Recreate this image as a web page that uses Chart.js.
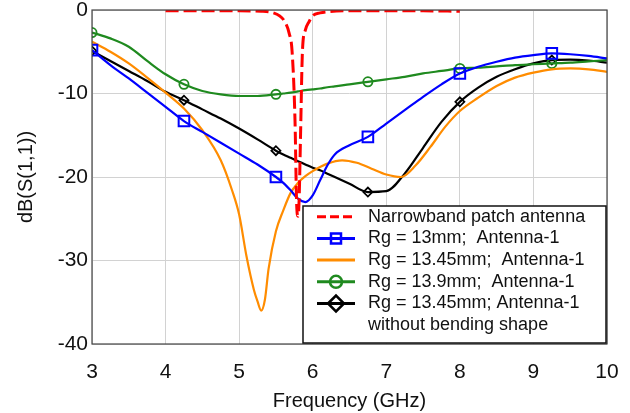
<!DOCTYPE html>
<html>
<head>
<meta charset="utf-8">
<script src="https://cdn.jsdelivr.net/npm/chart.js@4"></script>
<style>
	html, body { margin: 0; padding: 0; background: #fff; }
</style>
</head>
<body>
<canvas id="s11-chart" width="630" height="413"></canvas>
<script>
// frequency grid (GHz) shared by the three Antenna-1 curves with markers
var freq = [3, 3.25, 3.5, 3.75, 4, 4.25, 4.5, 4.75, 5, 5.25, 5.5, 5.6, 5.7, 5.8, 5.9, 6, 6.1, 6.2, 6.3, 6.5, 6.75, 7, 7.25, 7.5, 7.75, 8, 8.25, 8.5, 8.75, 9, 9.25, 9.5, 9.75, 10];
var rg13 = [-4.8, -6.6, -8.2, -9.9, -11.6, -13.3, -14.6, -15.9, -17.2, -18.5, -20.0, -20.7, -21.6, -22.6, -23.0, -22.2, -20.4, -18.6, -17.3, -16.2, -15.2, -13.6, -12.0, -10.4, -8.9, -7.6, -6.8, -6.2, -5.7, -5.4, -5.2, -5.3, -5.5, -5.8];
var rg139 = [-2.7, -3.4, -4.4, -6.1, -7.7, -8.9, -9.7, -10.1, -10.3, -10.3, -10.1, -10.0, -9.9, -9.75, -9.6, -9.5, -9.4, -9.25, -9.15, -8.9, -8.6, -8.3, -8.0, -7.6, -7.3, -7.0, -6.9, -6.75, -6.6, -6.5, -6.4, -6.3, -6.15, -6.0];
var rg1345flat = [-4.9, -6.1, -7.3, -8.5, -9.8, -10.8, -11.9, -13.0, -14.2, -15.5, -16.85, -17.3, -17.7, -18.1, -18.5, -18.9, -19.2, -19.6, -20.0, -20.8, -21.8, -21.7, -19.6, -16.5, -13.4, -11.0, -9.3, -8.0, -7.1, -6.4, -6.0, -5.95, -6.05, -6.3];

// Rg = 13.45mm (no markers), finer around the 5.3 GHz dip
var freqB = [3, 3.25, 3.5, 3.75, 4, 4.25, 4.5, 4.75, 4.9, 5.0, 5.1, 5.2, 5.25, 5.3, 5.35, 5.4, 5.5, 5.6, 5.7, 5.8, 5.9, 6.0, 6.2, 6.4, 6.6, 6.8, 7.0, 7.2, 7.4, 7.6, 7.8, 8.0, 8.25, 8.5, 8.75, 9.0, 9.25, 9.5, 9.75, 10];
var rg1345 = [-3.8, -5.0, -6.4, -8.1, -9.9, -11.8, -14.4, -18.0, -21.5, -24.5, -29.5, -33.5, -34.9, -36.0, -34.7, -31.0, -26.5, -24.0, -21.9, -20.7, -19.9, -19.3, -18.4, -18.0, -18.3, -19.0, -19.7, -20.0, -18.6, -16.4, -14.0, -12.1, -10.5, -9.1, -8.1, -7.5, -7.1, -7.0, -7.1, -7.4];

// narrowband patch antenna
var freqP = [4, 4.5, 5, 5.3, 5.45, 5.55, 5.62, 5.68, 5.72, 5.76, 5.78, 5.8, 5.815, 5.835, 5.86, 5.9, 5.95, 6.0, 6.1, 6.2, 6.5, 7, 7.5, 8];
var patch = [-0.1, -0.1, -0.1, -0.15, -0.3, -0.7, -1.4, -2.8, -5.0, -13.5, -22.8, -24.7, -22.8, -14.8, -5.0, -2.4, -1.4, -0.7, -0.35, -0.2, -0.1, -0.1, -0.1, -0.15];

var markerFreq = [3, 4.25, 5.5, 6.75, 8, 9.25];

var labels = [
	"Narrowband patch antenna",
	"Rg = 13mm;  Antenna-1",
	"Rg = 13.45mm;  Antenna-1",
	"Rg = 13.9mm;  Antenna-1",
	["Rg = 13.45mm; Antenna-1", "without bending shape"]
];

function toPoints(xs, ys){
	return xs.map(function(x, i){ return {x: x, y: ys[i]}; });
}

function markerRadius(r){
	return function(ctx){
		return (ctx.raw && markerFreq.indexOf(ctx.raw.x) >= 0) ? r : 0;
	};
}

var FONT = "'Liberation Sans', Arial, sans-serif";

function drawMark(ctx, style, x, y, r){
	ctx.beginPath();
	if (style === 'rect') {
		ctx.rect(x - r, y - r, 2 * r, 2 * r);
	} else if (style === 'circle') {
		ctx.arc(x, y, r, 0, Math.PI * 2);
	} else if (style === 'rectRot') {
		ctx.moveTo(x - r, y); ctx.lineTo(x, y - r); ctx.lineTo(x + r, y); ctx.lineTo(x, y + r); ctx.closePath();
	}
	ctx.stroke();
}

// legend box inside the plot, bottom right, plus the frame round the plot
var plotExtras = {
	id: 'plotExtras',
	afterDatasetsDraw: function(chart){
		var ctx = chart.ctx, a = chart.chartArea;
		ctx.save();
		ctx.strokeStyle = '#444';
		ctx.lineWidth = 1.2;
		ctx.strokeRect(a.left, a.top, a.right - a.left, a.bottom - a.top);

		var bx = a.left + 211, by = a.top + 196, bw = a.right - 1 - bx, bh = a.bottom - 1 - by;
		ctx.fillStyle = '#fff';
		ctx.fillRect(bx, by, bw, bh);
		ctx.strokeStyle = '#111';
		ctx.lineWidth = 1.5;
		ctx.strokeRect(bx, by, bw, bh);

		var legendMarks = [null, ['rect', 5], null, ['circle', 6], ['rectRot', 8]];
		ctx.font = '18px ' + FONT;
		ctx.textBaseline = 'middle';
		ctx.textAlign = 'left';
		chart.data.datasets.forEach(function(ds, i){
			var y = by + 10.7 + i * 21.7;
			ctx.strokeStyle = ds.borderColor;
			ctx.lineWidth = 3;
			if (ds.borderDash) ctx.setLineDash([9, 4]);
			ctx.beginPath();
			ctx.moveTo(bx + 14, y);
			ctx.lineTo(bx + 52, y);
			ctx.stroke();
			ctx.setLineDash([]);
			if (legendMarks[i]) {
				ctx.lineWidth = 2.5;
				drawMark(ctx, legendMarks[i][0], bx + 33, y, legendMarks[i][1]);
			}
			ctx.fillStyle = '#111';
			var t = labels[i];
			if (Array.isArray(t)) {
				t.forEach(function(line, k){ ctx.fillText(line, bx + 65, y + k * 21.7); });
			} else {
				ctx.fillText(t, bx + 65, y);
			}
		});
		ctx.restore();
	}
};

new Chart(document.getElementById("s11-chart"), {
	type: 'scatter',
	data: {
		datasets: [
			{
				label: labels[0],
				data: toPoints(freqP, patch),
				borderColor: '#ff0000',
				borderWidth: 3,
				borderDash: [13, 5],
				pointRadius: 0
			},
			{
				label: labels[1],
				data: toPoints(freq, rg13),
				borderColor: '#0000ff',
				borderWidth: 2.2,
				pointStyle: 'rect',
				pointRadius: markerRadius(7.5),
				pointBorderWidth: 2,
				pointBorderColor: '#0000ff',
				pointBackgroundColor: 'rgba(0,0,0,0)'
			},
			{
				label: labels[2],
				data: toPoints(freqB, rg1345),
				borderColor: '#ff8c00',
				borderWidth: 2.2,
				pointRadius: 0
			},
			{
				label: labels[3],
				data: toPoints(freq, rg139),
				borderColor: '#1f8a1f',
				borderWidth: 2.2,
				pointStyle: 'circle',
				pointRadius: markerRadius(4.6),
				pointBorderWidth: 1.8,
				pointBorderColor: '#1f8a1f',
				pointBackgroundColor: 'rgba(0,0,0,0)'
			},
			{
				label: labels[4],
				data: toPoints(freq, rg1345flat),
				borderColor: '#000000',
				borderWidth: 2.2,
				pointStyle: 'rectRot',
				pointRadius: markerRadius(4.5),
				pointBorderWidth: 1.8,
				pointBorderColor: '#000000',
				pointBackgroundColor: 'rgba(0,0,0,0)'
			}
		]
	},
	options: {
		responsive: false,
		animation: false,
		showLine: true,
		cubicInterpolationMode: 'monotone',
		layout: { padding: { left: 0, right: 23, top: 10, bottom: 0 } },
		plugins: {
			legend: { display: false },
			tooltip: { enabled: false }
		},
		scales: {
			x: {
				type: 'linear',
				min: 3,
				max: 10,
				ticks: { stepSize: 1, color: '#111', padding: 16, font: { family: FONT, size: 21 } },
				grid: { color: '#d2d2d2', drawTicks: false },
				border: { display: false },
				title: { display: true, text: 'Frequency (GHz)', color: '#111', padding: { top: 0, bottom: 0 }, font: { family: FONT, size: 20 } },
				afterFit: function(s){ s.height = 69; s.paddingLeft = 0; s.paddingRight = 0; }
			},
			y: {
				min: -40,
				max: 0,
				ticks: { stepSize: 10, color: '#111', padding: 4, font: { family: FONT, size: 21 } },
				grid: { color: '#d2d2d2', drawTicks: false },
				border: { display: false },
				title: { display: true, text: 'dB(S(1,1))', color: '#111', padding: { top: 14, bottom: 0 }, font: { family: FONT, size: 20 } },
				afterFit: function(s){ s.width = 92; s.paddingTop = 0; s.paddingBottom = 0; }
			}
		}
	},
	plugins: [plotExtras]
});
</script>
</body>
</html>
